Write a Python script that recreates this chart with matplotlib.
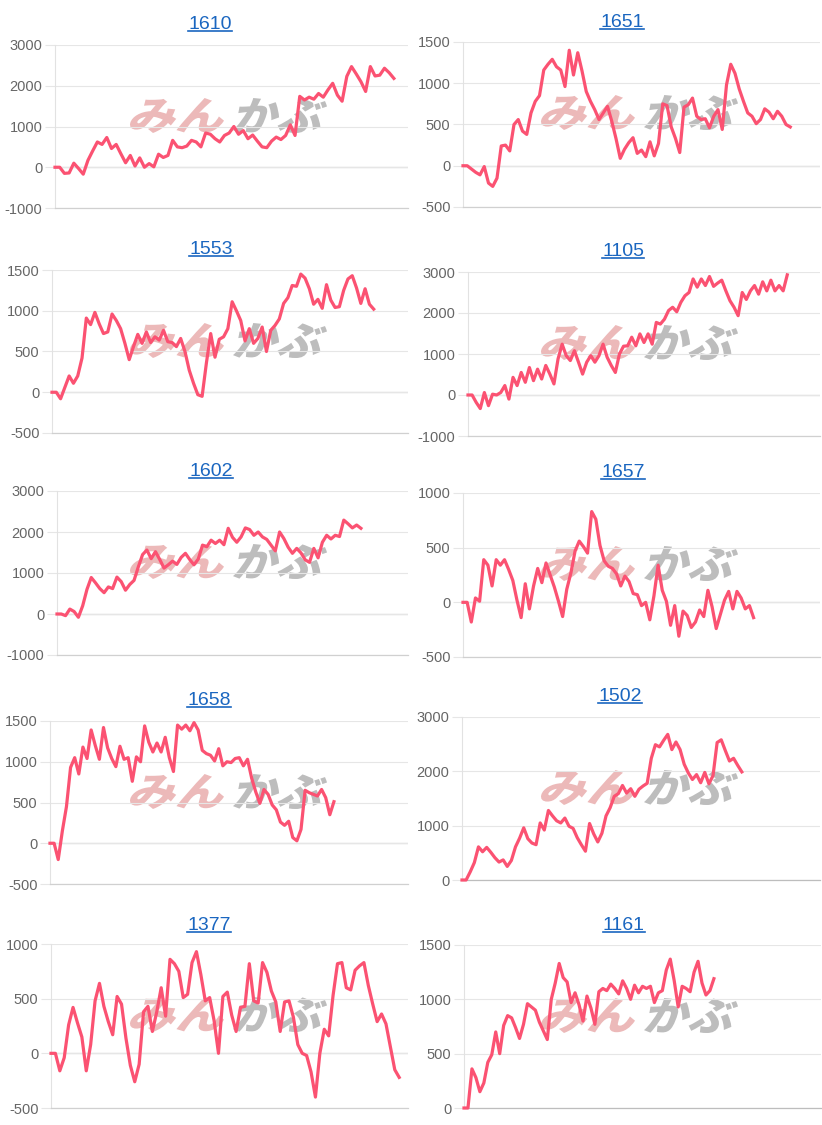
import matplotlib
matplotlib.use('Agg')
import numpy as np
import matplotlib.pyplot as plt
from matplotlib.textpath import TextPath
from matplotlib.patches import PathPatch
from matplotlib.font_manager import FontProperties
from matplotlib.transforms import Affine2D, IdentityTransform
from matplotlib.lines import Line2D

plt.rcParams['font.family'] = ['Liberation Sans', 'DejaVu Sans']

# stock codes shown as panel titles
titles = ['1610', '1651', '1553', '1105', '1602', '1657', '1658', '1502', '1377', '1161']

# cumulative values
s1610 = [0, 0, -150, -140, 100, -30, -170, 170, 400, 620, 560, 730, 460, 560, 330, 110, 290, 30, 230, 0,
         90, 10, 320, 240, 290, 660, 500, 480, 520, 660, 620, 500, 840, 810, 700, 620, 780, 840, 1000, 810,
         900, 700, 790, 640, 500, 480, 640, 740, 680, 780, 1040, 780, 1740, 1650, 1720, 1670, 1810, 1720, 1900, 2060,
         1770, 1620, 2230, 2470, 2290, 2100, 1860, 2470, 2240, 2260, 2430, 2320, 2180]
s1651 = [0, 0, -40, -80, -110, -10, -210, -250, -150, 240, 250, 180, 500, 560, 420, 380, 640, 780, 850, 1160,
         1230, 1290, 1200, 1160, 960, 1400, 1100, 1370, 1150, 900, 780, 680, 560, 640, 720, 540, 330, 90, 200, 280,
         340, 150, 190, 110, 290, 120, 270, 750, 730, 470, 330, 160, 710, 740, 820, 600, 560, 570, 460, 600,
         680, 440, 980, 1230, 1120, 930, 780, 640, 600, 510, 560, 690, 650, 570, 660, 600, 500, 470]
s1553 = [0, 0, -80, 60, 200, 110, 200, 420, 910, 830, 980, 840, 720, 740, 960, 880, 780, 600, 400, 560,
         710, 600, 740, 610, 680, 640, 760, 620, 610, 560, 660, 500, 270, 110, -30, -50, 360, 720, 430, 650,
         680, 780, 1110, 1000, 880, 630, 780, 600, 660, 800, 500, 760, 820, 900, 1090, 1160, 1310, 1300, 1450, 1400,
         1270, 1080, 1140, 1030, 1320, 1130, 1040, 1050, 1250, 1390, 1430, 1280, 1090, 1270, 1080, 1020]
s1105 = [0, 0, -180, -330, 60, -260, 20, 0, 60, 230, -100, 430, 230, 550, 310, 670, 350, 630, 390, 720,
         510, 270, 880, 1240, 960, 840, 1080, 800, 510, 800, 960, 800, 960, 1240, 920, 720, 550, 1000, 1190, 1200,
         1410, 1200, 1490, 1280, 1490, 1240, 1770, 1730, 1850, 2060, 2140, 2030, 2260, 2420, 2500, 2830, 2630, 2830, 2670, 2890,
         2650, 2730, 2800, 2540, 2300, 2140, 1935, 2500, 2330, 2540, 2670, 2460, 2760, 2540, 2800, 2540, 2670, 2540, 2930]
s1602 = [0, 0, -40, 120, 60, -80, 200, 600, 890, 760, 620, 520, 660, 620, 900, 790, 580, 720, 820, 1150,
         1450, 1560, 1350, 1520, 1330, 1120, 1200, 1290, 1210, 1380, 1480, 1330, 1200, 1340, 1680, 1640, 1800, 1720, 1800, 1690,
         2090, 1870, 1750, 1880, 2100, 2060, 1920, 2000, 1880, 1820, 1680, 1540, 2000, 1840, 1630, 1480, 1600, 1490, 1320, 1260,
         1600, 1370, 1750, 1920, 1830, 1920, 1890, 2290, 2200, 2100, 2170, 2090]
s1657 = [0, 0, -180, 40, 10, 390, 340, 150, 390, 340, 390, 300, 200, 20, -140, 170, -60, 150, 310, 180,
         360, 250, 140, 10, -130, 120, 270, 470, 560, 510, 450, 830, 760, 520, 380, 330, 310, 260, 150, 240,
         190, 80, 70, -30, 0, -160, 60, 340, 110, 10, -210, -30, -310, -80, -120, -230, -180, -70, -130, 110,
         -40, -240, -110, 20, 100, -60, 100, 40, -60, -30, -140]
s1658 = [0, 0, -200, 150, 450, 930, 1050, 850, 1180, 1040, 1390, 1200, 1030, 1420, 1170, 1040, 940, 1190, 1030, 1050,
         760, 1060, 1000, 1440, 1240, 1120, 1230, 1120, 1300, 1050, 880, 1450, 1400, 1450, 1380, 1480, 1390, 1140, 1100, 1080,
         1010, 1160, 950, 1000, 990, 1040, 1050, 950, 1030, 800, 630, 490, 660, 600, 470, 410, 260, 220, 270, 70,
         30, 170, 650, 620, 600, 580, 660, 560, 350, 510]
s1502 = [0, 0, 150, 320, 610, 520, 600, 510, 410, 330, 370, 250, 360, 610, 770, 960, 760, 680, 650, 1050,
         920, 1280, 1180, 1090, 1050, 1140, 990, 950, 780, 650, 530, 1040, 850, 700, 860, 1180, 1330, 1540, 1590, 1740,
         1600, 1680, 1540, 1670, 1730, 1780, 2240, 2490, 2450, 2570, 2680, 2400, 2540, 2400, 2130, 1970, 1850, 1940, 1790, 1980,
         1770, 1920, 2530, 2580, 2380, 2190, 2240, 2110, 1990]
s1377 = [0, 0, -160, -40, 260, 420, 280, 150, -160, 80, 480, 640, 430, 290, 170, 520, 450, 140, -110, -260,
         -100, 380, 430, 200, 380, 600, 340, 860, 820, 750, 510, 540, 830, 930, 720, 480, 510, 300, 0, 520,
         560, 350, 200, 420, 430, 820, 480, 460, 830, 740, 570, 470, 200, 470, 480, 330, 80, 0, -20, -170,
         -400, 0, 220, 160, 530, 820, 830, 600, 580, 760, 800, 830, 620, 450, 290, 360, 270, 60, -150, -220]
s1161 = [0, 0, 360, 280, 150, 230, 420, 490, 700, 500, 760, 850, 830, 740, 640, 770, 960, 930, 900, 790,
         710, 630, 1000, 1150, 1330, 1200, 1160, 970, 1060, 950, 800, 1030, 920, 770, 1070, 1100, 1080, 1140, 1100, 1050,
         1170, 1100, 1000, 1130, 1060, 1120, 1100, 1120, 970, 1060, 1080, 1270, 1370, 1170, 930, 1120, 1100, 1070, 1250, 1350,
         1150, 1040, 1080, 1190]
series = [s1610, s1651, s1553, s1105, s1602, s1657, s1658, s1502, s1377, s1161]

# number of category labels on each x axis
n_labels = [76, 85, 84, 87, 83, 87, 88, 88, 82, 91]

# y tick values per panel
yticks = [
    [-1000, 0, 1000, 2000, 3000],
    [-500, 0, 500, 1000, 1500],
    [-500, 0, 500, 1000, 1500],
    [-1000, 0, 1000, 2000, 3000],
    [-1000, 0, 1000, 2000, 3000],
    [-500, 0, 500, 1000],
    [-500, 0, 500, 1000, 1500],
    [0, 1000, 2000, 3000],
    [-500, 0, 500, 1000],
    [0, 500, 1000, 1500],
]

# layout in pixels: axes (left, top, right, bottom), title (x center, baseline)
W, H = 822, 1125
axes_px = [(55, 45, 408, 208), (463, 42, 820, 207),
           (52, 270, 408, 433), (468, 272, 820, 436),
           (57, 491, 408, 655), (463, 493, 820, 657),
           (50, 721, 408, 884), (462, 717, 820, 880),
           (51, 944, 408, 1108), (464, 945, 821, 1108)]
title_px = [(210, 29), (622, 27), (211, 254), (623, 256), (211, 476),
            (623, 477), (209, 705), (620, 701), (209, 930), (624, 930)]

line_color = '#fb5272'
link_color = '#1a66c0'

fp_wm = FontProperties(family='Noto Sans CJK JP', weight='black')


def add_logo(text, box, color):
    # box: (left, top, right, bottom) in pixels from top-left
    tp = TextPath((0, 0), text, size=10, prop=fp_wm)
    p = tp.transformed(Affine2D().skew_deg(14, 0))
    ext = p.get_extents()
    x0, y0, x1, y1 = box[0], H - box[3], box[2], H - box[1]
    tr = (Affine2D().translate(-ext.x0, -ext.y0)
          .scale((x1 - x0) / ext.width, (y1 - y0) / ext.height)
          .translate(x0, y0))
    patch = PathPatch(p.transformed(tr), facecolor=color, edgecolor='none',
                      transform=IdentityTransform(), zorder=-1)
    fig.add_artist(patch)


fig = plt.figure(figsize=(W / 100, H / 100), dpi=100)
fig.patch.set_facecolor('white')

title_texts = []
for i in range(len(series)):
    l, t, r, b = axes_px[i]
    ax = fig.add_axes([l / W, 1 - b / H, (r - l) / W, (b - t) / H])
    ax.set_facecolor('none')
    vals = series[i]
    ax.plot(np.arange(len(vals)), vals, color=line_color, lw=2.3, zorder=3, clip_on=False)
    ax.set_xlim(0, n_labels[i] - 1)
    ax.set_ylim(yticks[i][0], yticks[i][-1])
    ax.set_yticks(yticks[i])
    ax.set_yticklabels([str(v) for v in yticks[i]])
    ax.set_xticks([])
    ax.grid(axis='y', color='#e6e6e6', lw=0.8, zorder=0)
    if yticks[i][0] < 0:
        ax.axhline(0, color='#c4c4c4', lw=0.9, zorder=1)
    for s in ['top', 'right']:
        ax.spines[s].set_visible(False)
    ax.spines['left'].set_color('#e2e2e2')
    ax.spines['left'].set_linewidth(0.8)
    ax.spines['bottom'].set_color('#d0d0d0' if yticks[i][0] < 0 else '#bdbdbd')
    ax.spines['bottom'].set_linewidth(0.9)
    ax.tick_params(axis='y', length=7, width=0.8, color='#e6e6e6', labelsize=10.5,
                   labelcolor='#666666', pad=2)

    col0 = 0 if l < 300 else 411
    add_logo('みん', (col0 + 130, t + 53, col0 + 224, t + 88), '#ecb9b9')
    add_logo('かぶ', (col0 + 233, t + 53, col0 + 327, t + 88), '#bdbdbd')

    tx, ty = title_px[i]
    title_texts.append(fig.text(tx / W, 1 - ty / H, titles[i], ha='center', va='baseline',
                                color=link_color, fontsize=14))

fig.canvas.draw()
for txt, (tx, ty) in zip(title_texts, title_px):
    bb = txt.get_window_extent()
    y = 1 - (ty + 2) / H
    fig.add_artist(Line2D([bb.x0 / W, bb.x1 / W], [y, y], transform=fig.transFigure,
                          color=link_color, lw=1.2))

fig.savefig('out.png', dpi=100, facecolor='white')
